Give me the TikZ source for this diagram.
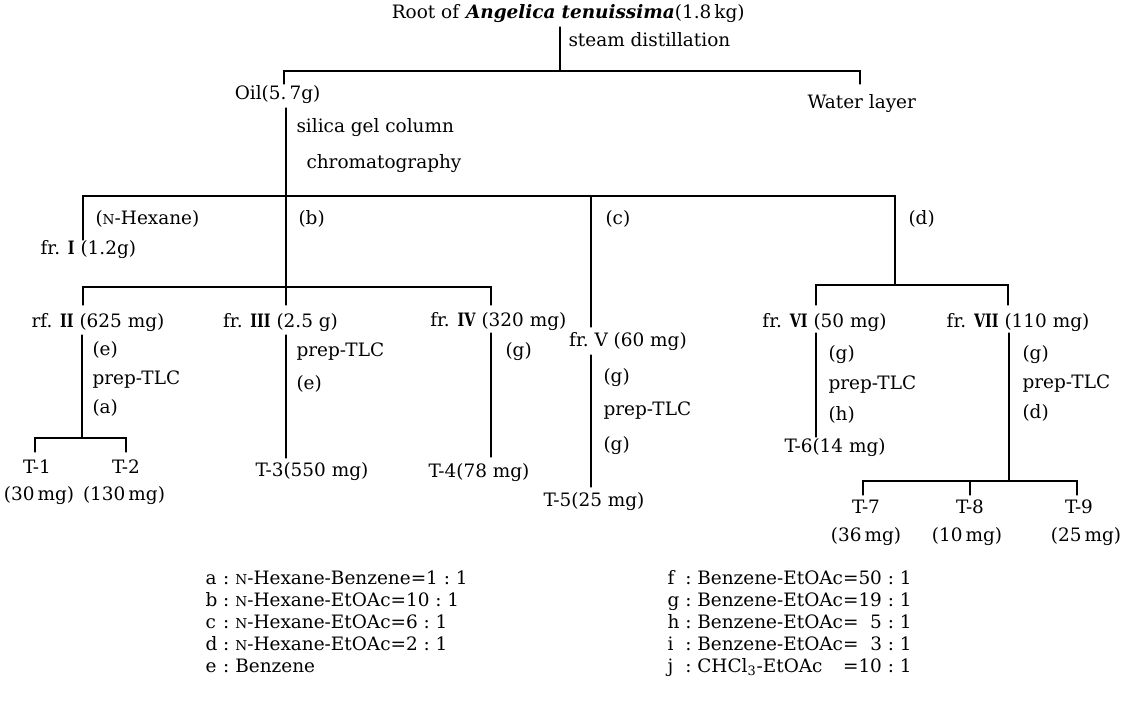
\documentclass[tikz,border=0pt]{standalone}
\usepackage{fontspec}
\usepackage{graphicx}
\setmainfont{DejaVu Serif}
\newcommand{\frn}[1]{\scalebox{0.78}[1]{\textbf{#1}}}
\newcommand{\nhex}{{\fontsize{7.8}{8}\selectfont N}-Hexane}
\begin{document}
\begin{tikzpicture}[x=0.02cm, y=-0.02cm, font=\fontsize{10.5}{12}\selectfont, line width=0.6pt, line cap=round,
	lbl/.style={anchor=west, inner sep=0pt},
	ctr/.style={inner sep=0pt}]
	\useasboundingbox (0,0) rectangle (1129,708);
	% extraction
	\node[lbl] (root) at (561,14) {\llap{Root of \textbf{\textit{Angelica}}\ }\textbf{\textit{tenuissima}}(1.8\,kg)};
	\node[lbl] (steam) at (568,40) {steam distillation};
	\node[lbl] (oil) at (286,95) {\llap{Oil(5.}\,7g)};
	\node[lbl] (water) at (807,104) {Water layer};
	\node[lbl] (silica) at (296,128) {silica gel column};
	\node[lbl] (chrom) at (306,164) {chromatography};
	\coordinate (R0) at (560,27);
	\coordinate (R1) at (560,71);
	\coordinate (S0) at (284,71);
	\coordinate (S1) at (860,71);
	\coordinate (OilT) at (284,84);
	\coordinate (WatT) at (860,84);
	\draw (R0) -- (R1);
	\draw (OilT) -- (S0) -- (S1) -- (WatT);
	% column fractions
	\coordinate (O0) at (286,108);
	\coordinate (M0) at (83,196);
	\coordinate (M1) at (286,196);
	\coordinate (M2) at (591,196);
	\coordinate (M3) at (895,196);
	\coordinate (F1) at (83,240);
	\coordinate (B1) at (286,287);
	\coordinate (C1) at (591,327);
	\coordinate (D1) at (895,285);
	\draw (O0) -- (M1);
	\draw (F1) -- (M0) -- (M3) -- (D1);
	\draw (M1) -- (B1);
	\draw (M2) -- (C1);
	\node[lbl] (hexl) at (95,219) {(\nhex)};
	\node[lbl] (frI) at (80,250) {\llap{fr. \frn{I} }(1.2g)};
	\node[lbl] (bl) at (298,219) {(b)};
	\node[lbl] (cl) at (605,219) {(c)};
	\node[lbl] (dl) at (908,219) {(d)};
	\coordinate (N0) at (83,287);
	\coordinate (N2) at (491,287);
	\coordinate (N0t) at (83,305);
	\coordinate (B1t) at (286,305);
	\coordinate (N2t) at (491,305);
	\draw (N0t) -- (N0) -- (N2) -- (N2t);
	\draw (B1) -- (B1t);
	\coordinate (P0) at (816,285);
	\coordinate (P1) at (1008,285);
	\coordinate (P0t) at (816,305);
	\coordinate (P1t) at (1008,305);
	\draw (P0t) -- (P0) -- (P1) -- (P1t);
	\node[lbl] (frII) at (79,323) {\llap{rf. \frn{II} }(625 mg)};
	\node[lbl] (frIII) at (276,323) {\llap{fr. \frn{III} }(2.5 g)};
	\node[lbl] (frIV) at (481,322) {\llap{fr. \frn{IV} }(320 mg)};
	\node[lbl] (frV) at (594,342) {\llap{fr.\ }V (60 mg)};
	\node[lbl] (frVI) at (813,323) {\llap{fr. \frn{VI} }(50 mg)};
	\node[lbl] (frVII) at (1004,323) {\llap{fr. \frn{VII} }(110 mg)};
	% prep-TLC
	\coordinate (E0) at (82,335);
	\coordinate (E1) at (82,438);
	\coordinate (TB0) at (35,438);
	\coordinate (TB1) at (126,438);
	\coordinate (TB0t) at (35,452);
	\coordinate (TB1t) at (126,452);
	\draw (E0) -- (E1);
	\draw (TB0t) -- (TB0) -- (TB1) -- (TB1t);
	\node[lbl] (eA) at (92,350) {(e)};
	\node[lbl] (pA) at (92,380) {prep-TLC};
	\node[lbl] (aA) at (92,408) {(a)};
	\node[ctr] (T1) at (37,467) {T-1};
	\node[ctr] (T2) at (126,467) {T-2};
	\node[ctr] (m1) at (39,496) {(30\,mg)};
	\node[ctr] (m2) at (124,496) {(130\,mg)};
	\coordinate (G0) at (286,335);
	\coordinate (G1) at (286,458);
	\draw (G0) -- (G1);
	\node[lbl] (pB) at (296,352) {prep-TLC};
	\node[lbl] (eB) at (296,384) {(e)};
	\node[lbl] (T3) at (283,472) {\llap{T-3}(550 mg)};
	\coordinate (H0) at (491,333);
	\coordinate (H1) at (491,457);
	\draw (H0) -- (H1);
	\node[lbl] (gC) at (505,352) {(g)};
	\node[lbl] (T4) at (428,473) {T-4(78 mg)};
	\coordinate (V0) at (591,355);
	\coordinate (V1) at (591,487);
	\draw (V0) -- (V1);
	\node[lbl] (gD) at (603,378) {(g)};
	\node[lbl] (pD) at (603,411) {prep-TLC};
	\node[lbl] (gD2) at (603,446) {(g)};
	\node[lbl] (T5) at (543,502) {T-5(25 mg)};
	\coordinate (W0) at (816,333);
	\coordinate (W1) at (816,437);
	\draw (W0) -- (W1);
	\node[lbl] (gE) at (828,355) {(g)};
	\node[lbl] (pE) at (828,385) {prep-TLC};
	\node[lbl] (hE) at (828,415) {(h)};
	\node[lbl] (T6) at (812,448) {\llap{T-6}(14 mg)};
	\coordinate (X0) at (1009,333);
	\coordinate (X1) at (1009,481);
	\draw (X0) -- (X1);
	\node[lbl] (gF) at (1022,355) {(g)};
	\node[lbl] (pF) at (1022,384) {prep-TLC};
	\node[lbl] (dF) at (1022,413) {(d)};
	\coordinate (Y0) at (863,481);
	\coordinate (Y1) at (970,481);
	\coordinate (Y2) at (1077,481);
	\coordinate (Y0t) at (863,495);
	\coordinate (Y1t) at (970,495);
	\coordinate (Y2t) at (1077,495);
	\draw (Y0t) -- (Y0) -- (Y2) -- (Y2t);
	\draw (Y1) -- (Y1t);
	\node[ctr] (T7) at (866,507) {T-7};
	\node[ctr] (T8) at (970,507) {T-8};
	\node[ctr] (T9) at (1079,507) {T-9};
	\node[ctr] (m7) at (866,537) {(36\,mg)};
	\node[ctr] (m8) at (967,537) {(10\,mg)};
	\node[ctr] (m9) at (1086,537) {(25\,mg)};
	% solvents
	\node[lbl] (keyL) at (205,624) {\fontsize{10.5}{12.6}\selectfont\begin{tabular}{@{}l@{\ :\ }l@{}}
		a & \nhex-Benzene=1\ :\ 1\\
		b & \nhex-EtOAc=10\ :\ 1\\
		c & \nhex-EtOAc=6\ :\ 1\\
		d & \nhex-EtOAc=2\ :\ 1\\
		e & Benzene
	\end{tabular}};
	\node[lbl] (keyR) at (667,624) {\fontsize{10.5}{12.6}\selectfont\begin{tabular}{@{}l@{\ :\ }l@{}l@{}r@{\ :\ }l@{}}
		f & Benzene-EtOAc & = & 50 & 1\\
		g & Benzene-EtOAc & = & 19 & 1\\
		h & Benzene-EtOAc & = & 5 & 1\\
		i & Benzene-EtOAc & = & 3 & 1\\
		j & CHCl\textsubscript{3}-EtOAc & = & 10 & 1
	\end{tabular}};
\end{tikzpicture}
\end{document}
